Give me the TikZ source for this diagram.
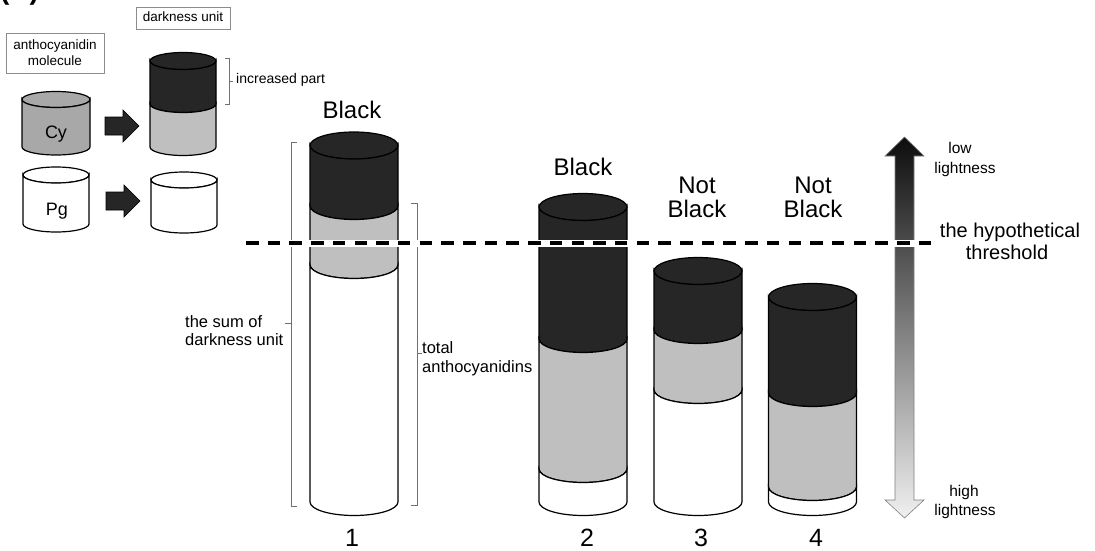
\documentclass[tikz,border=0pt]{standalone}
\usepackage{fontspec}
\setmainfont{Liberation Sans}
\definecolor{darkfill}{HTML}{262626}
\definecolor{midfill}{HTML}{BFBFBF}
\definecolor{cyfill}{HTML}{A8A8A8}
\definecolor{framegray}{HTML}{8C8C8C}
\definecolor{bracegray}{HTML}{707070}

\newcommand\fs[1]{\fontsize{#1}{#1}\selectfont}

% one band of a cylinder between the cross-sections at #4 and #5
% (#1 centre x, #2 x radius, #3 y radius, #6 fill colour)
\newcommand\cylband[6]{%
  \filldraw[cylline, fill=#6] ({#1-#2},#4)
    arc[start angle=180, end angle=360, x radius=#2pt, y radius=#3pt]
    -- ({#1+#2},#5)
    arc[start angle=0, end angle=-180, x radius=#2pt, y radius=#3pt]
    -- cycle;}
% the top face of a cylinder
\newcommand\cyltop[5]{%
  \filldraw[cylline, fill=#5] (#1,#4) ellipse[x radius=#2pt, y radius=#3pt];}

\tikzset{
  cylline/.style={draw=black, line width=1.2pt},
  boxlabel/.style={draw=framegray, line width=0.7pt},
  brace/.style={draw=bracegray, line width=0.8pt},
  txt/.style={anchor=base, inner sep=0pt},
  txtl/.style={anchor=base west, inner sep=0pt},
  blockarrow/.style={fill=darkfill, draw=black, line width=0.6pt},
}

\begin{document}
\begin{tikzpicture}[x=1pt, y=-1pt]
\useasboundingbox (0,0) rectangle (1095,551);
\clip (0,0) rectangle (1095,551);

% panel tag
\node[anchor=base west, inner sep=0pt, font=\fs{28}\bfseries] (tag) at (0,0) {(\phantom{A})};

% ---------- legend: molecule -> darkness unit ----------
\node[txt, font=\fs{13.5}] (molA) at (55,49) {anthocyanidin};
\node[txt, font=\fs{13.5}] (molB) at (55,66) {molecule};
\draw[boxlabel] (6,33) rectangle (104,73);
\node[txt, font=\fs{13.5}] (unitlab) at (183,22) {darkness unit};
\draw[boxlabel] (136,7) rectangle (230,29);

% Cy molecule
\cyltop{56}{34}{8}{99.5}{cyfill}
\cylband{56}{34}{8}{99.5}{147}{cyfill}
\node[txt, font=\fs{18}] (cy) at (56,138) {Cy};
% Pg molecule
\cyltop{56}{33}{8}{175}{white}
\cylband{56}{33}{8}{175}{224}{white}
\node[txt, font=\fs{18}] (pg) at (57,215) {Pg};

% block arrows
\draw[blockarrow] (105,117) -- (123,117) -- (123,110) -- (139,126) -- (123,142) -- (123,135) -- (105,135) -- cycle;
\draw[blockarrow] (106,192) -- (124,192) -- (124,185) -- (140,201) -- (124,217) -- (124,210) -- (106,210) -- cycle;

% darkness unit of Cy
\cyltop{183}{33}{8.5}{61}{darkfill}
\cylband{183}{33}{8.5}{61}{104}{darkfill}
\cylband{183}{33}{8.5}{104}{147}{midfill}
% darkness unit of Pg
\cyltop{184}{33}{8}{180}{white}
\cylband{184}{33}{8}{180}{225}{white}

% increased part bracket
\coordinate (ipT) at (225,58);
\coordinate (ipB) at (225,104);
\coordinate (ipM) at (229,81);
\draw[brace] (ipT) -- ++(4,0) |- (ipB);
\draw[brace] (ipM) -- ++(4,0);
\node[txtl, font=\fs{14}] (inc) at (236,84) {increased part};

% ---------- cylinders 1-4 ----------
% 1
\cyltop{354}{44}{13.5}{145.5}{darkfill}
\cylband{354}{44}{13.5}{145.5}{206}{darkfill}
\cylband{354}{44}{13.5}{206}{265}{midfill}
\cylband{354}{44}{13.5}{265}{502}{white}
% 2
\cyltop{583}{44}{13.5}{207}{darkfill}
\cylband{583}{44}{13.5}{207}{339}{darkfill}
\cylband{583}{44}{13.5}{339}{469}{midfill}
\cylband{583}{44}{13.5}{469}{502}{white}
% 3
\cyltop{698}{44}{13.5}{271}{darkfill}
\cylband{698}{44}{13.5}{271}{330}{darkfill}
\cylband{698}{44}{13.5}{330}{390}{midfill}
\cylband{698}{44}{13.5}{390}{502}{white}
% 4
\cyltop{812.5}{44}{13.5}{297}{darkfill}
\cylband{812.5}{44}{13.5}{297}{393}{darkfill}
\cylband{812.5}{44}{13.5}{393}{487}{midfill}
\cylband{812.5}{44}{13.5}{487}{502}{white}

% labels above and below
\node[txt, font=\fs{24}] (b1) at (352,118) {Black};
\node[txt, font=\fs{24}] (b2) at (583,175) {Black};
\node[txt, font=\fs{24}] (n3a) at (697,193) {Not};
\node[txt, font=\fs{24}] (n3b) at (697,217) {Black};
\node[txt, font=\fs{24}] (n4a) at (813,193) {Not};
\node[txt, font=\fs{24}] (n4b) at (813,217) {Black};
\node[txt, font=\fs{25}] (k1) at (352,546) {1};
\node[txt, font=\fs{25}] (k2) at (587,546) {2};
\node[txt, font=\fs{25}] (k3) at (701,546) {3};
\node[txt, font=\fs{25}] (k4) at (816,546) {4};

% the sum of darkness unit
\coordinate (sT) at (297,142);
\coordinate (sB) at (297,506);
\coordinate (sM) at (291,323);
\draw[brace] (sT) -- ++(-6,0) |- (sB);
\draw[brace] (sM) -- ++(-6,0);
\node[txtl, font=\fs{16.5}] (sum1) at (185,327) {the sum of};
\node[txtl, font=\fs{16.5}] (sum2) at (185,345) {darkness unit};

% total anthocyanidins
\coordinate (tT) at (411,203);
\coordinate (tB) at (411,505);
\coordinate (tM) at (417,353);
\draw[brace] (tT) -- ++(6,0) |- (tB);
\draw[brace] (tM) -- ++(5,0);
\node[txtl, font=\fs{16.5}] (tot1) at (422,353) {total};
\node[txtl, font=\fs{16.5}] (tot2) at (422,372) {anthocyanidins};

% ---------- lightness scale ----------
\path[draw=gray, line width=0.6pt, top color=black!95, bottom color=black!6]
  (895,156) -- (885,156) -- (904.5,137) -- (924,156) -- (914,156)
  -- (914,500) -- (924,500) -- (904.5,518) -- (885,500) -- (895,500) -- cycle;
\node[txt, font=\fs{15.5}] (low1) at (960,153) {low};
\node[txt, font=\fs{15.5}] (low2) at (965,173) {lightness};
\node[txt, font=\fs{15.5}] (high1) at (964,496) {high};
\node[txt, font=\fs{15.5}] (high2) at (965,515) {lightness};

% ---------- threshold ----------
\coordinate (thL) at (246,243);
\coordinate (thR) at (933,243);
\draw[white, line width=7pt] (thL) -- (thR);
\draw[black, line width=3.5pt, dash pattern=on 12.5pt off 9.2pt] (thL) -- (thR);
\node[txt, font=\fs{20}] (th1) at (1010,237) {the hypothetical};
\node[txt, font=\fs{20}] (th2) at (1007,259) {threshold};

\end{tikzpicture}
\end{document}
